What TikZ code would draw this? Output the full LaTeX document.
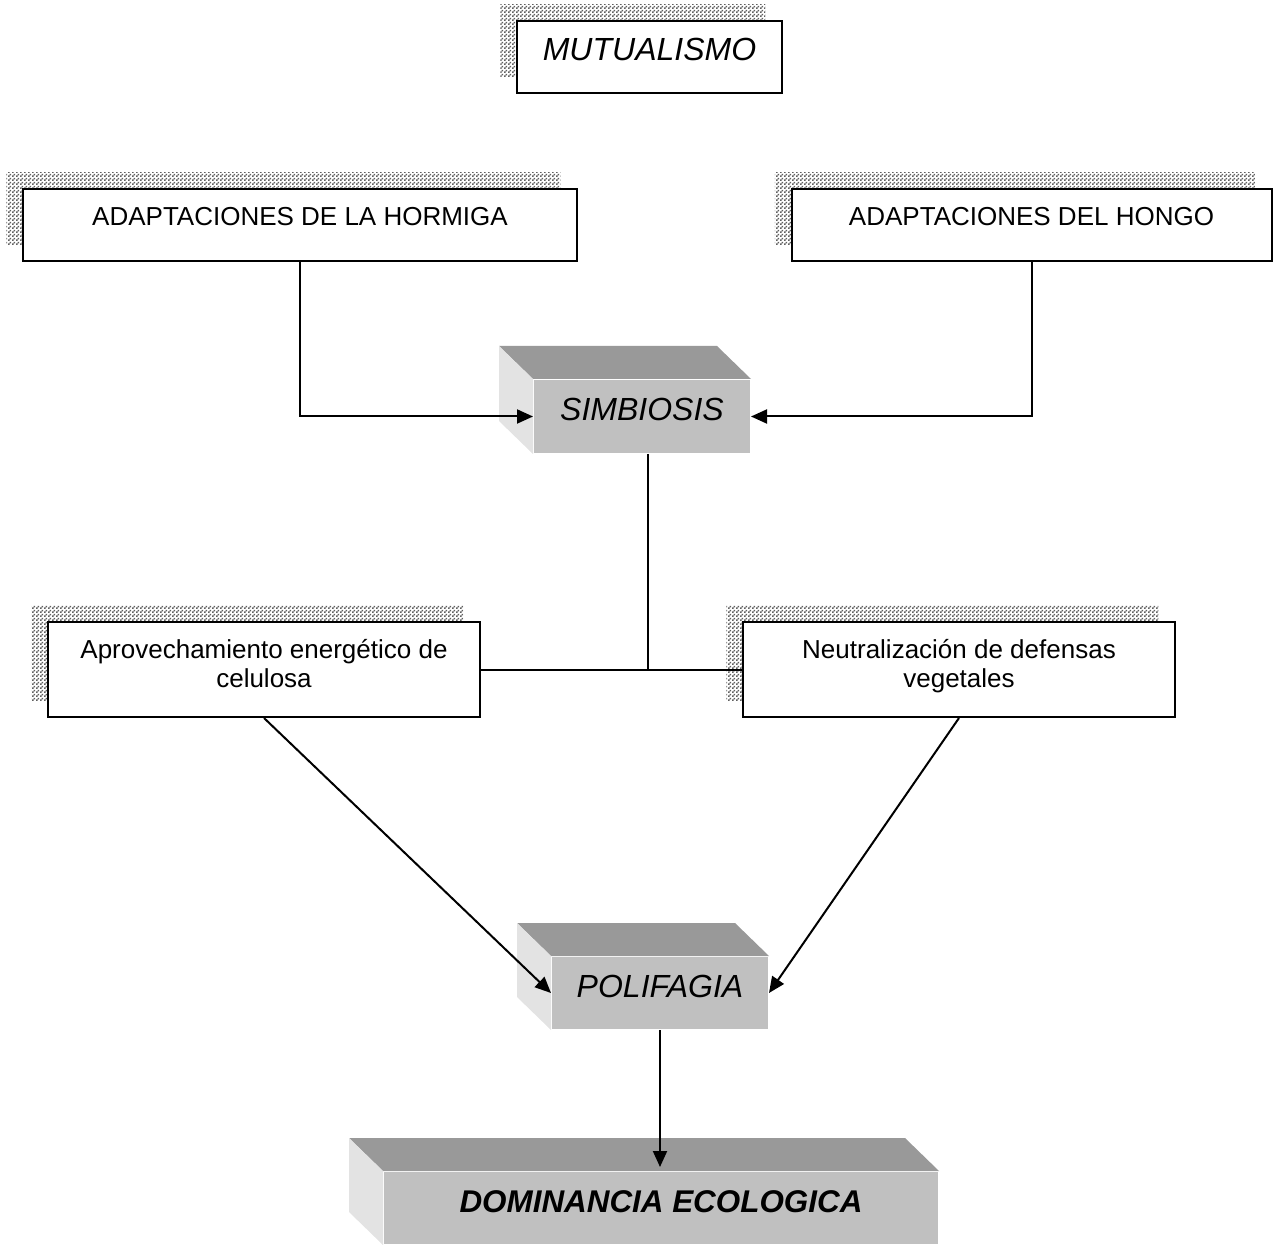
\documentclass[tikz,border=0pt]{standalone}
\usepackage{fontspec}
\setmainfont{Liberation Sans}
\usetikzlibrary{arrows.meta,shadows,patterns}

\def\mypxscale{0.5pt}
\definecolor{mytopgray}{RGB}{153,153,153}
\definecolor{myfrontgray}{RGB}{192,192,192}
\definecolor{mysidegray}{RGB}{227,227,227}
\definecolor{mycheckgray}{RGB}{95,95,95}

% fine checker for the shadows
\pgfdeclarepatternformonly{mycheck}{\pgfpointorigin}{\pgfqpoint{2pt}{2pt}}{\pgfqpoint{2pt}{2pt}}{%
  \pgfpathrectangle{\pgfpointorigin}{\pgfqpoint{1pt}{1pt}}%
  \pgfpathrectangle{\pgfqpoint{1pt}{1pt}}{\pgfqpoint{1pt}{1pt}}%
  \pgfusepath{fill}}

% top and left face of a block
\newcommand{\myslabfaces}[1]{%
  \fill[mytopgray] (#1.north west) -- ++(-34,-33) -- ([shift={(-34,-33)}]#1.north east) -- (#1.north east) -- cycle;
  \fill[mysidegray] (#1.north west) -- ++(-34,-33) -- ([shift={(-34,-33)}]#1.south west) -- (#1.south west) -- cycle;
}

\tikzset{
  textbox/.style = {draw, fill=white, inner sep=0pt, align=center,
    font=\fontsize{13}{14.5}\selectfont,
    drop shadow={shadow xshift=-8.3pt, shadow yshift=8.3pt, opacity=1,
      pattern=mycheck, pattern color=mycheckgray}},
  slab/.style = {fill=myfrontgray, inner sep=0pt,
    font=\fontsize{16}{19}\selectfont\itshape, text height=20pt, text depth=16pt}
}

\begin{document}
\begin{tikzpicture}[x=\mypxscale, y=-\mypxscale, line width=1pt,
  >={Triangle[length=8pt,width=7pt]}]
\useasboundingbox (0,0) rectangle (1274,1245);

% boxes with shadow
\node[textbox, minimum width=132.5pt, text height=20pt, text depth=16pt,
  font=\fontsize{16}{19}\selectfont\itshape] (mutual) at (649.5,57) {MUTUALISMO};
\node[textbox, minimum width=277pt, text height=18.5pt, text depth=17.5pt] (horm) at (300,225) {ADAPTACIONES DE LA HORMIGA};
\node[textbox, minimum width=240pt, text height=18.5pt, text depth=17.5pt] (hongo) at (1031.5,225) {ADAPTACIONES DEL HONGO};
\node[textbox, minimum width=216pt, text height=32.5pt, text depth=15pt] (aprov) at (264,669.5) {Aprovechamiento energético de\\celulosa};
\node[textbox, minimum width=216pt, text height=32.5pt, text depth=15pt] (neutral) at (959,669.5) {Neutralización de defensas\\vegetales};

% blocks
\node[slab, minimum width=108pt, text height=20.5pt] (simb) at (642,416.5) {SIMBIOSIS};
\myslabfaces{simb}
\node[slab, minimum width=108pt] (polif) at (660,993) {POLIFAGIA};
\myslabfaces{polif}
\node[slab, minimum width=277pt, font=\fontsize{15.7}{19}\selectfont\bfseries\itshape] (dom) at (661,1208) {DOMINANCIA ECOLOGICA};
\myslabfaces{dom}

% connectors
\draw[->] (horm.south) |- (simb.west);
\draw[->] (hongo.south) |- (simb.east);
\draw ([xshift=3pt]simb.south) -- ([xshift=3pt]simb.south |- aprov.east);
\draw (aprov.east) -- (neutral.west);
\draw[->] (aprov.south) -- (polif.west);
\draw[->] (neutral.south) -- (polif.east);
\draw[->, shorten >=2pt] (polif.south) -- (polif.south |- dom.north);
\end{tikzpicture}
\end{document}
